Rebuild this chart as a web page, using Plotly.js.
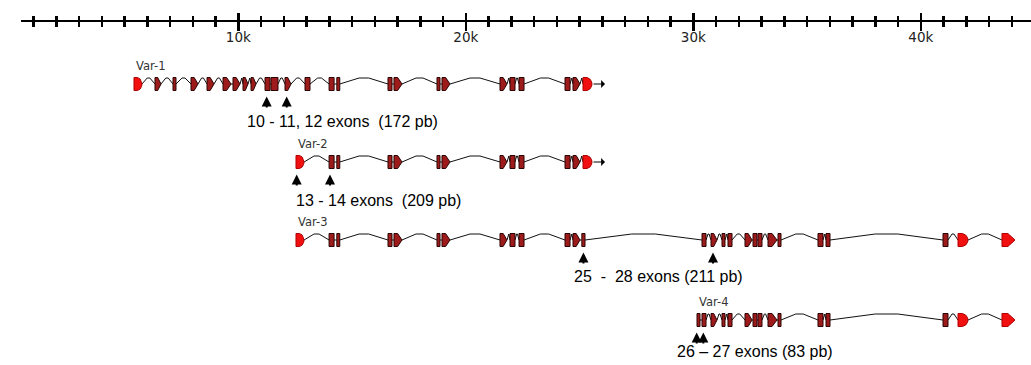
<!DOCTYPE html>
<html>
<head>
<meta charset="utf-8">
<script src="https://cdn.plot.ly/plotly-3.0.1.min.js"></script>
<style>html,body{margin:0;padding:0;background:#fff;}#chart{width:1031px;height:365px;}</style>
</head>
<body>
<div id="chart"></div>
<script>
// ---------------- DATA (bp) ----------------
const variantNames = ['Var-1', 'Var-2', 'Var-3', 'Var-4'];

const rulerTickVals = [10000, 20000, 30000, 40000];
const rulerTickText = ['10k', '20k', '30k', '40k'];
const rulerOrigin = [0];

// exon kinds: b = coding block, a = coding block with pointed end, u = UTR (rounded), p = UTR pointed
const var1Start = [5415, 6338, 7130, 7921, 8624, 9328, 9767, 10207, 10558, 11174, 11437, 12053, 12932, 13990, 14330, 16580, 16844, 18734, 18954, 21503, 21943, 22339, 24361, 24712, 25152];
const var1End   = [5767, 6602, 7262, 8229, 8932, 9679, 10075, 10426, 10778, 11393, 11745, 12317, 13152, 14210, 14460, 16756, 17196, 18866, 19306, 21811, 22163, 22559, 24581, 25020, 25547];
const var1Kind  = ['u', 'a', 'b', 'a', 'a', 'a', 'a', 'a', 'a', 'b', 'b', 'a', 'b', 'b', 'b', 'b', 'a', 'b', 'a', 'a', 'b', 'b', 'b', 'a', 'u'];

const var2Start = [12536, 13990, 14330, 16580, 16844, 18734, 18954, 21503, 21943, 22339, 24361, 24712, 25152];
const var2End   = [12890, 14210, 14460, 16756, 17196, 18866, 19306, 21811, 22163, 22559, 24581, 25020, 25547];
const var2Kind  = ['u', 'b', 'b', 'b', 'a', 'b', 'a', 'a', 'b', 'b', 'b', 'a', 'u'];

const var3Start = [12536, 13990, 14330, 16580, 16844, 18734, 18954, 21503, 21943, 22339, 24361, 24712, 25100, 30383, 30778, 31262, 31525, 32272, 32624, 32844, 33283, 33723, 35481, 35833, 40976, 41635, 43569];
const var3End   = [12890, 14210, 14460, 16756, 17196, 18866, 19306, 21811, 22163, 22559, 24581, 25020, 25240, 30559, 31042, 31393, 31701, 32581, 32800, 33020, 33679, 33855, 35701, 36009, 41196, 42075, 44141];
const var3Kind  = ['u', 'b', 'b', 'b', 'a', 'b', 'a', 'a', 'b', 'b', 'b', 'a', 'b', 'b', 'a', 'b', 'b', 'a', 'b', 'b', 'a', 'b', 'b', 'b', 'b', 'u', 'p'];

const var4Start = [30163, 30383, 30778, 31262, 31525, 32272, 32624, 32844, 33283, 33723, 35481, 35833, 40976, 41635, 43569];
const var4End   = [30295, 30559, 31042, 31393, 31701, 32581, 32800, 33020, 33679, 33855, 35701, 36009, 41196, 42075, 44141];
const var4Kind  = ['b', 'b', 'a', 'b', 'b', 'a', 'b', 'b', 'a', 'b', 'b', 'b', 'b', 'u', 'p'];

// transcript continues beyond last exon (open arrow)
const continueTo = [26119, 26119, null, null];

// alternative exons marked with arrows (bp)
const var1Marks = [11248, 12127];
const var2Marks = [12567, 14031];
const var3Marks = [25170, 30866];
const var4Marks = [30150, 30440];

const noteTexts = [
  '10 - 11, 12 exons\u00a0\u00a0(172 pb)',
  '13 - 14 exons\u00a0\u00a0(209 pb)',
  '25\u00a0\u00a0-\u00a0\u00a028 exons (211 pb)',
  '26 \u2013 27 exons (83 pb)'
];

// ---------------- LAYOUT CONSTANTS (pixel-unit y axis) ----------------
const rowCenter = [84, 162, 240, 320];
const noteX = [10300, 12440, 24650, 29200];
const noteY = [121.5, 200, 276, 351];
const EXON_H = 6.5, INTRON_RISE = 6;

const variants = [
  {s: var1Start, e: var1End, k: var1Kind, m: var1Marks},
  {s: var2Start, e: var2End, k: var2Kind, m: var2Marks},
  {s: var3Start, e: var3End, k: var3Kind, m: var3Marks},
  {s: var4Start, e: var4End, k: var4Kind, m: var4Marks}
];

function exonPoly(s, e, kind, yc) {
  const w = e - s, t = yc - EXON_H, b = yc + EXON_H;
  if (kind === 'b') return [[s, e, e, s, s], [t, t, b, b, t]];
  if (kind === 'a' || kind === 'p') {
    const m = s + w * 0.45;
    return [[s, m, e, m, s, s], [t, t, yc, b, b, t]];
  }
  // 'u' rounded D
  return [[s, s + w * 0.45, s + w * 0.78, s + w * 0.95, e, s + w * 0.95, s + w * 0.78, s + w * 0.45, s, s],
          [t, t, yc - EXON_H * 0.75, yc - EXON_H * 0.35, yc, yc + EXON_H * 0.35, yc + EXON_H * 0.75, b, b, t]];
}

const dark = {x: [], y: []}, bright = {x: [], y: []}, intr = {x: [], y: []};
const annotations = [];

variants.forEach((v, r) => {
  const yc = rowCenter[r];
  for (let i = 0; i < v.s.length; i++) {
    const p = exonPoly(v.s[i], v.e[i], v.k[i], yc);
    const tgt = (v.k[i] === 'u' || v.k[i] === 'p') ? bright : dark;
    tgt.x.push(...p[0], null); tgt.y.push(...p[1], null);
    if (i < v.s.length - 1) {
      const a = v.e[i], c = v.s[i + 1], w = c - a;
      if (w > 120) {
        intr.x.push(a, a + w * 0.4, c - w * 0.4, c, null);
        intr.y.push(yc, yc - INTRON_RISE, yc - INTRON_RISE, yc, null);
      } else if (w > 0) {
        intr.x.push(a, c, null); intr.y.push(yc, yc, null);
      }
    }
  }
  // label
  annotations.push({x: v.s[0], y: yc - 18.5, xref: 'x', yref: 'y', text: variantNames[r], showarrow: false,
    xanchor: 'left', yanchor: 'middle', font: {family: 'DejaVu Sans', size: 11.5, color: '#333'}});
  // continuation arrow
  if (continueTo[r] !== null) {
    annotations.push({x: continueTo[r], y: yc, ax: v.e[v.e.length - 1], ay: yc, xref: 'x', yref: 'y', axref: 'x', ayref: 'y',
      text: '', showarrow: true, arrowhead: 1, arrowsize: 1.3, arrowwidth: 1, arrowcolor: '#000'});
  }
  // alt exon arrows
  v.m.forEach(mx => {
    annotations.push({x: mx, y: yc + 12.5, ax: mx, ay: yc + 25, xref: 'x', yref: 'y', axref: 'x', ayref: 'y',
      text: '', showarrow: true, arrowhead: 2, arrowsize: 1, arrowwidth: 2, arrowcolor: '#000', standoff: 0});
  });
  // note
  annotations.push({x: noteX[r], y: noteY[r], xref: 'x', yref: 'y', text: noteTexts[r], showarrow: false,
    xanchor: 'left', yanchor: 'middle', font: {family: 'Liberation Sans, Arial', size: 16, color: '#000'}});
});

const traces = [
  {type: 'scatter', mode: 'lines', x: intr.x, y: intr.y, line: {color: '#111', width: 1}, hoverinfo: 'skip', connectgaps: false},
  {type: 'scatter', mode: 'lines', x: dark.x, y: dark.y, fill: 'toself', fillcolor: '#9e1b1b', line: {color: '#2a0505', width: 1}, hoverinfo: 'skip'},
  {type: 'scatter', mode: 'lines', x: bright.x, y: bright.y, fill: 'toself', fillcolor: '#f01010', line: {color: '#b00000', width: 1}, hoverinfo: 'skip'},
  {type: 'scatter', mode: 'markers', x: rulerOrigin, y: [21], xaxis: 'x2', yaxis: 'y', cliponaxis: false,
    marker: {size: 2.5, color: '#555'}, hoverinfo: 'skip'}
];

const AXPOS = 1 - 20.7 / 365;
const XDOM = [20.7 / 1031, 1];
const XRANGE = [435, 44844];
const minorCfg = (len) => ({tickmode: 'linear', tick0: 0, dtick: 1000, ticks: 'outside', ticklen: len, tickwidth: 2.5, tickcolor: '#000', showgrid: false});

const layout = {
  width: 1031, height: 365,
  margin: {l: 0, r: 0, t: 0, b: 0, pad: 0},
  paper_bgcolor: '#fff', plot_bgcolor: 'rgba(0,0,0,0)',
  showlegend: false,
  xaxis: {domain: XDOM, range: XRANGE, anchor: 'free', position: AXPOS, side: 'bottom',
    showline: true, linewidth: 2.5, linecolor: '#000', showgrid: false, zeroline: false,
    tickmode: 'array', tickvals: rulerTickVals, ticktext: rulerTickText,
    ticks: 'outside', ticklen: 9, tickwidth: 2.5, tickcolor: '#000',
    ticklabelstandoff: -5,
    tickfont: {family: 'DejaVu Sans', size: 13.5, color: '#222'},
    minor: minorCfg(5), fixedrange: true},
  xaxis2: {overlaying: 'x', matches: 'x', domain: XDOM, range: XRANGE, anchor: 'free', position: AXPOS, side: 'top',
    showline: false, showgrid: false, zeroline: false,
    tickmode: 'array', tickvals: rulerTickVals, showticklabels: false,
    ticks: 'outside', ticklen: 8, tickwidth: 2.5, tickcolor: '#000',
    minor: minorCfg(5), fixedrange: true},
  yaxis: {range: [365, 0], domain: [0, 1], visible: false, fixedrange: true},
  annotations: annotations
};

Plotly.newPlot('chart', traces, layout, {displayModeBar: false, staticPlot: true});
</script>
</body>
</html>
